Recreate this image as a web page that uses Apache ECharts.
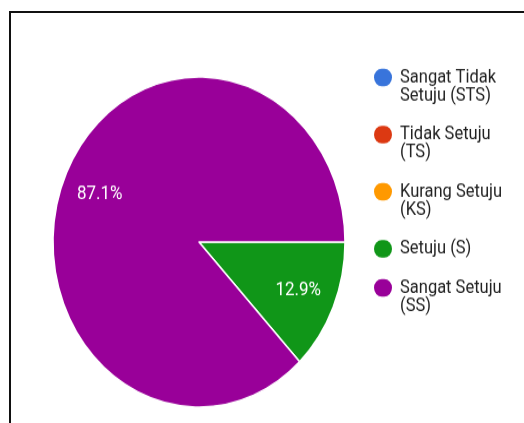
<!DOCTYPE html>
<html>
<head>
<meta charset="utf-8">
<script src="https://cdn.jsdelivr.net/npm/echarts@6/dist/echarts.min.js"></script>
<style>
  html, body { margin: 0; padding: 0; background: #fff; overflow: hidden; }
  #frame {
    position: absolute; left: 9px; top: 11px; width: 600px; height: 500px;
    border-top: 2px solid #111; border-left: 2px solid #111;
  }
  /* the screenshot is stretched vertically, so the chart is too */
  #main {
    position: absolute; left: 0; top: 0; width: 524px; height: 374px;
    transform: scaleY(1.131); transform-origin: 0 0;
  }
</style>
</head>
<body>
<div id="frame"></div>
<div id="main"></div>
<script>
// jawaban kuesioner
var categories = ['Sangat Tidak Setuju (STS)', 'Tidak Setuju (TS)', 'Kurang Setuju (KS)', 'Setuju (S)', 'Sangat Setuju (SS)']
var legendLines = [['Sangat Tidak', 'Setuju (STS)'], ['Tidak Setuju', '(TS)'], ['Kurang Setuju', '(KS)'], ['Setuju (S)'], ['Sangat Setuju', '(SS)']]
var values = [0, 0, 0, 4, 27]
var colors = ['#3874db', '#dc3912', '#ff9900', '#109618', '#990099']

var pieData = categories.map(function (name, i) {
    return { name: name, value: values[i], itemStyle: { color: colors[i] } }
})

// titik warna legenda dibuat dengan rich text supaya sejajar baris pertama
var rich = {
    t: { fontFamily: 'Roboto', fontSize: 16.5, lineHeight: 16, color: '#222', padding: [0, 0, 0, 8] },
    sp: { width: 18, height: 15 }
}
colors.forEach(function (c, i) {
    rich['d' + i] = { width: 18, height: 15.5, borderRadius: 9, backgroundColor: c }
})

var myEcharts = echarts.init(document.getElementById('main'))
var option = {
    backgroundColor: 'transparent',
    animation: false,
    color: colors,
    legend: {
        orient: 'vertical',
        left: 369,
        top: 60,
        padding: 0,
        itemGap: 17.5,
        itemWidth: 0,
        icon: 'none',
        selectedMode: false,
        data: categories,
        formatter: function (name) {
            var i = categories.indexOf(name)
            var lines = legendLines[i]
            var s = '{d' + i + '|}{t|' + lines[0] + '}'
            if (lines[1]) s += '\n{sp|}{t|' + lines[1] + '}'
            return s
        },
        textStyle: { rich: rich }
    },
    series: [{
        name: 'pie',
        type: 'pie',
        center: [199, 214],
        radius: [0, 146],
        startAngle: 0,
        clockwise: true,
        silent: true,
        label: { show: false },
        labelLine: { show: false },
        itemStyle: { borderColor: '#fff', borderWidth: 1.5 },
        emphasis: { disabled: true },
        data: pieData
    }, {
        // lapisan transparan hanya untuk posisi label persentase
        name: 'label',
        type: 'pie',
        center: [199, 214],
        radius: [64, 146],
        startAngle: 0,
        clockwise: true,
        silent: true,
        itemStyle: { color: 'rgba(0,0,0,0)', borderWidth: 0 },
        emphasis: { disabled: true },
        label: {
            show: true,
            position: 'inside',
            color: '#fff',
            fontFamily: 'Roboto',
            fontSize: 17,
            formatter: function (p) {
                return p.value ? p.percent.toFixed(1) + '%' : ''
            }
        },
        labelLine: { show: false },
        data: categories.map(function (name, i) { return { name: name, value: values[i] } })
    }]
}
myEcharts.setOption(option)
</script>
</body>
</html>
